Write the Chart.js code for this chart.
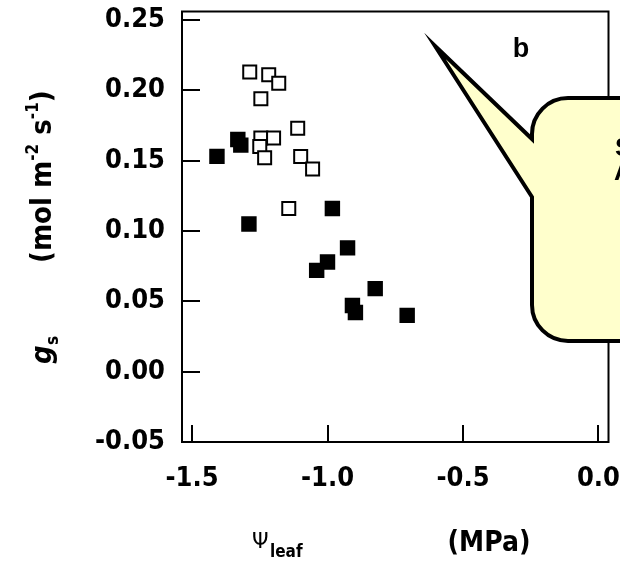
<!DOCTYPE html>
<html>
<head>
<meta charset="utf-8">
<script src="https://cdn.jsdelivr.net/npm/chart.js@4.4.1/dist/chart.umd.min.js"></script>
<style>
  body { margin: 0; background: #fff; }
  canvas { display: block; }
</style>
</head>
<body>
<canvas id="gsChart" width="620" height="564"></canvas>
<script>
// leaf water potential (MPa) vs stomatal conductance (mol m-2 s-1)
const openPsi = [-1.287, -1.217, -1.180, -1.246, -1.110, -1.246, -1.199, -1.250, -1.232, -1.099, -1.055, -1.143];
const openGs  = [ 0.213,  0.211,  0.205,  0.194,  0.173,  0.166,  0.166,  0.160,  0.152,  0.153,  0.144,  0.116];

const filledPsi = [-1.331, -1.320, -1.408, -1.290, -0.982, -0.926, -1.000, -1.040, -0.824, -0.908, -0.897, -0.706];
const filledGs  = [ 0.165,  0.161,  0.153,  0.105,  0.116,  0.088,  0.078,  0.072,  0.059,  0.047,  0.042,  0.040];

const xTicks = [-1.5, -1.0, -0.5, 0.0];
const yTicks = [-0.05, 0.00, 0.05, 0.10, 0.15, 0.20, 0.25];

const FAM = '"DejaVu Sans Condensed", "DejaVu Sans"';
const tickFont = { family: FAM, size: 27, weight: 'bold' };

function toPoints(xs, ys) {
    return xs.map((x, i) => ({ x: x, y: ys[i] }));
}

// frame plus inward tick marks
const framePlugin = {
    id: 'frame',
    beforeDatasetsDraw(chart) {
        const { ctx, chartArea: a, scales } = chart;
        ctx.save();
        ctx.strokeStyle = '#000';
        ctx.lineWidth = 2;
        ctx.strokeRect(a.left, a.top, a.right - a.left, a.bottom - a.top);
        ctx.beginPath();
        yTicks.forEach(v => {
            const py = Math.round(scales.y.getPixelForValue(v));
            ctx.moveTo(a.left, py);
            ctx.lineTo(a.left + 18, py);
        });
        xTicks.forEach(v => {
            const px = Math.round(scales.x.getPixelForValue(v));
            ctx.moveTo(px, a.bottom);
            ctx.lineTo(px, a.bottom - 17);
        });
        ctx.stroke();
        ctx.restore();
    }
};

// axis titles, panel letter and the callout
const extrasPlugin = {
    id: 'extras',
    afterDraw(chart) {
        const ctx = chart.ctx;
        ctx.save();
        ctx.fillStyle = '#000';
        ctx.textBaseline = 'alphabetic';

        // y title, rotated
        ctx.save();
        ctx.translate(51, 0);
        ctx.rotate(-Math.PI / 2);
        ctx.textAlign = 'left';
        ctx.font = 'italic bold 29px ' + FAM;
        ctx.fillText('g', -364, 0);
        ctx.font = 'bold 17px ' + FAM;
        ctx.fillText('s', -345, 7);
        let u = -263;
        const runs = [
            ['(mol m', 'bold 29px ' + FAM, 0],
            ['-2', 'bold 17px ' + FAM, -13],
            [' s', 'bold 29px ' + FAM, 0],
            ['-1', 'bold 17px ' + FAM, -13],
            [')', 'bold 29px ' + FAM, 0]
        ];
        runs.forEach(r => {
            ctx.font = r[1];
            ctx.fillText(r[0], u, r[2]);
            u += ctx.measureText(r[0]).width;
        });
        ctx.restore();

        // x title
        ctx.textAlign = 'left';
        ctx.font = '21px "DejaVu Sans"';
        ctx.fillText('\u03A8', 252, 548);
        ctx.font = 'bold 17px ' + FAM;
        ctx.fillText('leaf', 270, 557);
        ctx.textAlign = 'center';
        ctx.font = 'bold 28px ' + FAM;
        ctx.fillText('(MPa)', 489, 551);

        // panel letter
        ctx.font = 'bold 27px "Liberation Sans"';
        ctx.fillText('b', 521, 57);

        // speech bubble
        const L = 532, T = 98, R = 760, B = 341, rad = 36;
        ctx.beginPath();
        ctx.moveTo(L + rad, T);
        ctx.lineTo(R, T);
        ctx.lineTo(R, B);
        ctx.lineTo(L + rad, B);
        ctx.arcTo(L, B, L, B - rad, rad);
        ctx.lineTo(L, 197);
        ctx.lineTo(435, 46);
        ctx.lineTo(L, 139);
        ctx.lineTo(L, T + rad);
        ctx.arcTo(L, T, L + rad, T, rad);
        ctx.closePath();
        ctx.fillStyle = '#ffffcc';
        ctx.fill();
        ctx.lineWidth = 4;
        ctx.lineJoin = 'miter';
        ctx.miterLimit = 20;
        ctx.strokeStyle = '#000';
        ctx.stroke();

        // text inside the bubble, cut by the picture edge
        ctx.fillStyle = '#000';
        ctx.textAlign = 'left';
        ctx.font = 'bold 26px "Liberation Sans"';
        ctx.fillText('S', 615, 156);
        ctx.fillText('A', 614, 180);
        ctx.restore();
    }
};

const ctx = document.getElementById('gsChart').getContext('2d');

const gsChart = new Chart(ctx, {
    type: 'scatter',
    data: {
        datasets: [{
            label: 'filled',
            data: toPoints(filledPsi, filledGs),
            pointStyle: 'rect',
            pointRadius: 9.5,
            backgroundColor: '#000',
            borderColor: '#000',
            borderWidth: 2
        }, {
            label: 'open',
            data: toPoints(openPsi, openGs),
            pointStyle: 'rect',
            pointRadius: 9.2,
            backgroundColor: '#fff',
            borderColor: '#000',
            borderWidth: 2
        }]
    },
    options: {
        responsive: false,
        animation: false,
        devicePixelRatio: 1,
        layout: { padding: { top: 10, right: 10, left: 0, bottom: 0 } },
        plugins: {
            legend: { display: false },
            tooltip: { enabled: false }
        },
        scales: {
            x: {
                type: 'linear',
                min: -1.537,
                max: 0.037,
                grid: { display: false, drawTicks: false },
                border: { display: false },
                afterBuildTicks: s => { s.ticks = xTicks.map(v => ({ value: v })); },
                afterFit: s => {
                    s.height = 122;
                    s.paddingLeft = 0; s.paddingRight = 0;
                },
                ticks: {
                    autoSkip: false,
                    maxRotation: 0,
                    padding: 21,
                    color: '#000',
                    font: tickFont,
                    callback: v => v.toFixed(1)
                }
            },
            y: {
                type: 'linear',
                min: -0.05,
                max: 0.256,
                grid: { display: false, drawTicks: false },
                border: { display: false },
                afterBuildTicks: s => { s.ticks = yTicks.map(v => ({ value: v })); },
                afterFit: s => {
                    s.width = 182;
                    s.paddingTop = 0; s.paddingBottom = 0;
                },
                ticks: {
                    autoSkip: false,
                    padding: 17,
                    color: '#000',
                    font: tickFont,
                    callback: v => v.toFixed(2)
                }
            }
        }
    },
    plugins: [framePlugin, extrasPlugin]
});
</script>
</body>
</html>
